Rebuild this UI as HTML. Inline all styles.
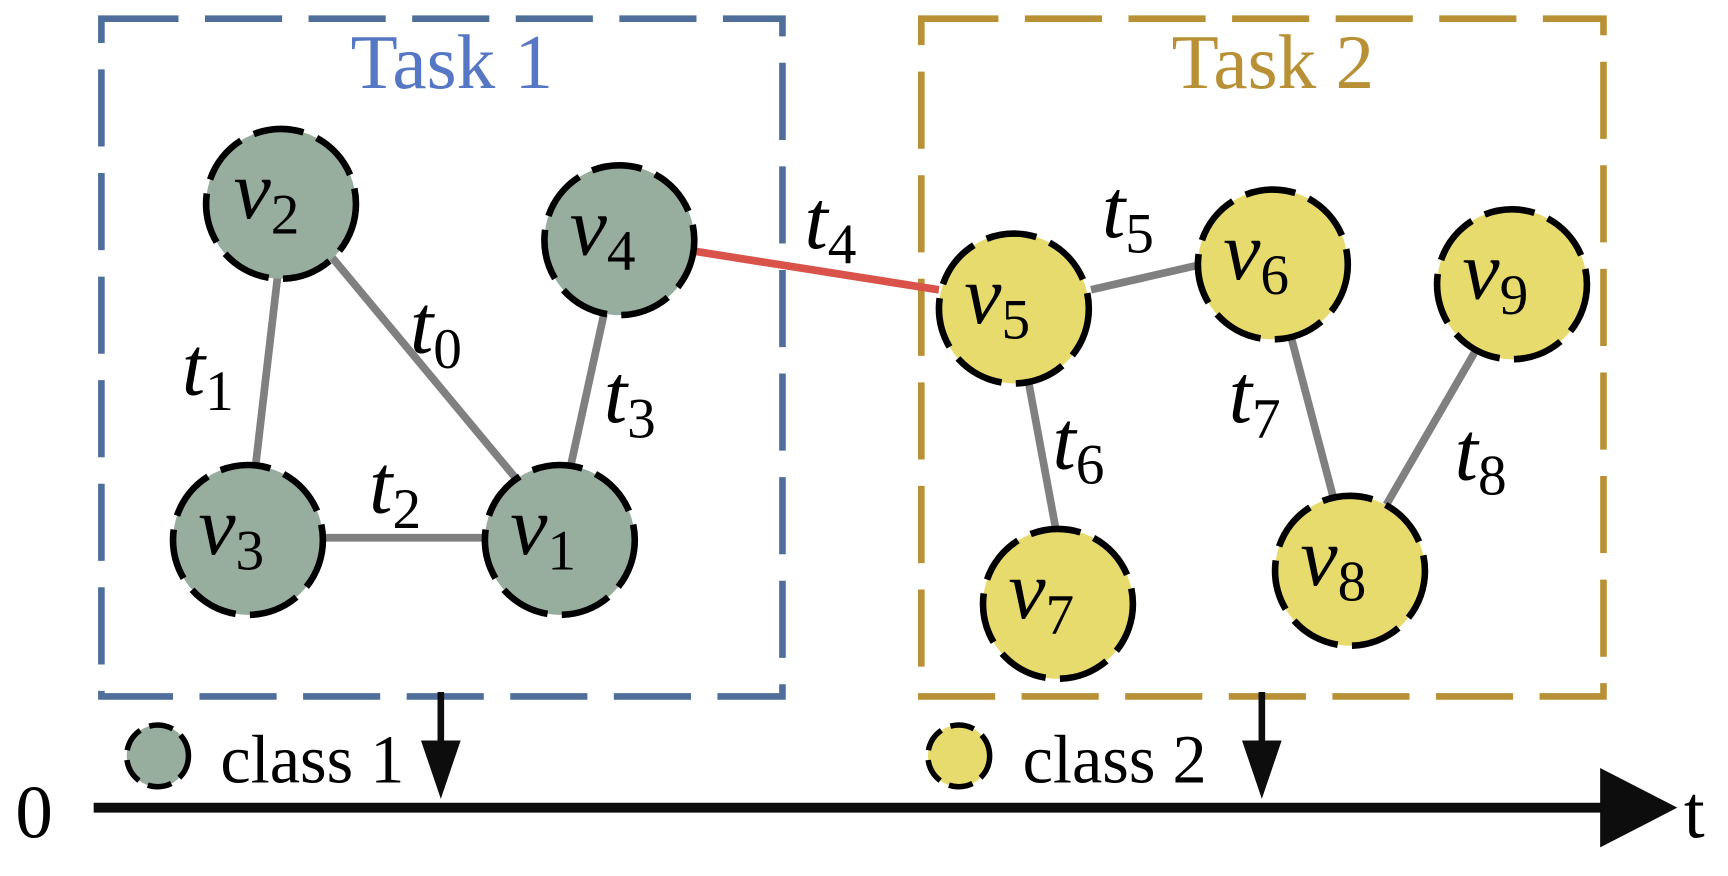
<!DOCTYPE html>
<html><head><meta charset="utf-8"><style>
html,body{margin:0;padding:0;background:#fff;width:1728px;height:876px;overflow:hidden}
svg{display:block}
text{font-family:"Liberation Serif","DejaVu Serif",serif}
.m{font-style:italic;font-size:76px;fill:#000}
.s{font-style:normal;font-size:52px}
.n circle{stroke:#000;stroke-width:6;stroke-dasharray:46 13}
.lbl{font-size:62px}
</style></head><body>
<svg width="1728" height="876" viewBox="0 0 1568 795" preserveAspectRatio="none">
<rect x="92" y="17" width="618" height="615" fill="none" stroke="#4f6f9a" stroke-width="6" stroke-dasharray="70 24"/>
<rect x="836" y="17" width="619" height="615" fill="none" stroke="#b89035" stroke-width="6" stroke-dasharray="70 24"/>
<text x="410" y="80" text-anchor="middle" font-size="70" fill="#5577c4">Task 1</text>
<text x="1155" y="80" text-anchor="middle" font-size="70" fill="#b89035">Task 2</text>
<g stroke="#808080" stroke-width="7">
<line x1="252" y1="250" x2="232" y2="422"/>
<line x1="300" y1="232" x2="468" y2="434"/>
<line x1="292" y1="488" x2="440" y2="488"/>
<line x1="548" y1="285" x2="518" y2="422"/>
<line x1="990" y1="263" x2="1090" y2="240"/>
<line x1="933" y1="345" x2="958" y2="480"/>
<line x1="1170" y1="300" x2="1210" y2="452"/>
<line x1="1338" y1="320" x2="1258" y2="458"/>
</g>
<line x1="630" y1="228" x2="852" y2="263" stroke="#d9534a" stroke-width="7"/>
<g class="n">
<circle cx="255" cy="185" r="68" fill="#97ad9e"/>
<circle cx="562" cy="218" r="68" fill="#97ad9e"/>
<circle cx="225" cy="490" r="68" fill="#97ad9e"/>
<circle cx="508" cy="490" r="68" fill="#97ad9e"/>
<circle cx="920" cy="280" r="68" fill="#e8db6e"/>
<circle cx="1155" cy="240" r="68" fill="#e8db6e"/>
<circle cx="1372" cy="258" r="68" fill="#e8db6e"/>
<circle cx="960" cy="548" r="68" fill="#e8db6e"/>
<circle cx="1225" cy="518" r="68" fill="#e8db6e"/>
</g>
<g class="m">
<text x="212" y="198">v<tspan class="s" dy="14">2</tspan></text>
<text x="517" y="231">v<tspan class="s" dy="14">4</tspan></text>
<text x="180" y="503">v<tspan class="s" dy="14">3</tspan></text>
<text x="463" y="503">v<tspan class="s" dy="14">1</tspan></text>
<text x="875" y="293">v<tspan class="s" dy="14">5</tspan></text>
<text x="1110" y="253">v<tspan class="s" dy="14">6</tspan></text>
<text x="1327" y="271">v<tspan class="s" dy="14">9</tspan></text>
<text x="915" y="561">v<tspan class="s" dy="14">7</tspan></text>
<text x="1180" y="531">v<tspan class="s" dy="14">8</tspan></text>
<text x="165" y="358">t<tspan class="s" dy="14">1</tspan></text>
<text x="372" y="320">t<tspan class="s" dy="14">0</tspan></text>
<text x="335" y="465">t<tspan class="s" dy="14">2</tspan></text>
<text x="548" y="383">t<tspan class="s" dy="14">3</tspan></text>
<text x="730" y="225">t<tspan class="s" dy="14">4</tspan></text>
<text x="1000" y="215">t<tspan class="s" dy="14">5</tspan></text>
<text x="955" y="425">t<tspan class="s" dy="14">6</tspan></text>
<text x="1115" y="383">t<tspan class="s" dy="14">7</tspan></text>
<text x="1320" y="435">t<tspan class="s" dy="14">8</tspan></text>
</g>
<line x1="85" y1="733" x2="1460" y2="733" stroke="#0d0d0d" stroke-width="9"/>
<polygon points="1452,697 1522,733 1452,769" fill="#0d0d0d"/>
<line x1="400" y1="628" x2="400" y2="680" stroke="#0d0d0d" stroke-width="6"/>
<polygon points="382,672 418,672 400,725" fill="#0d0d0d"/>
<line x1="1145" y1="628" x2="1145" y2="680" stroke="#0d0d0d" stroke-width="6"/>
<polygon points="1127,672 1163,672 1145,725" fill="#0d0d0d"/>
<text x="14" y="760" font-size="68">0</text>
<text x="1528" y="760" font-size="68">t</text>
<circle cx="143" cy="686" r="28" fill="#97ad9e" stroke="#000" stroke-width="5" stroke-dasharray="22 9"/>
<circle cx="870" cy="686" r="28" fill="#e8db6e" stroke="#000" stroke-width="5" stroke-dasharray="22 9"/>
<text x="200" y="710" class="lbl">class 1</text>
<text x="928" y="710" class="lbl">class 2</text>
</svg>
</body></html>
